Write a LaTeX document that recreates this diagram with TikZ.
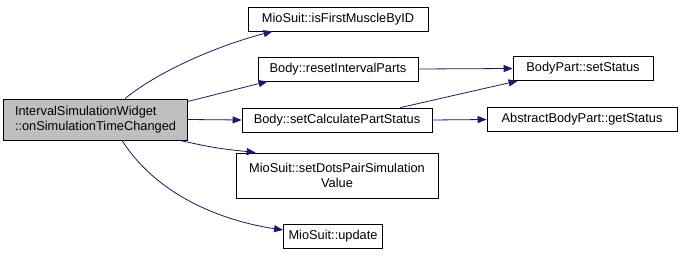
\documentclass[tikz,border=0pt]{standalone}
\usepackage[svgnames]{xcolor}
\usepackage{fontspec}
\setmainfont{Liberation Sans}
\usepackage{tikz}
\usetikzlibrary{positioning,calc,arrows.meta}
\tikzstyle{fn} = [draw=black, line width=0.8pt, fill=white, inner sep=2pt, minimum height=24pt, font=\fontsize{12.8}{15}\selectfont]
\tikzstyle{root} = [fn, fill=black!25, minimum height=41pt, text width=160pt, align=left]
\tikzstyle{call} = [draw=MidnightBlue, line width=0.8pt, -{Triangle[length=9pt,width=7pt]}]

\begin{document}
\begin{tikzpicture}[x=1pt, y=-1pt]
        \useasboundingbox (0,0) rectangle (683,256);
        \node[root, minimum width=184pt] (widget) at (95,119.5) {IntervalSimulationWidget\\::onSimulationTimeChanged};
        \node[fn, minimum width=180pt] (first) at (338,19) {MioSuit::isFirstMuscleByID};
        \node[fn, minimum width=160pt] (reset) at (338,69) {Body::resetIntervalParts};
        \node[fn, minimum width=190pt] (calc) at (337,120) {Body::setCalculatePartStatus};
        \node[fn, minimum width=202pt, minimum height=45pt, align=center] (dots) at (337,175.5) {MioSuit::setDotsPairSimulation\\Value};
        \node[fn, minimum width=99pt] (update) at (333,236) {MioSuit::update};
        \node[fn, minimum width=140pt] (setst) at (583,68.5) {BodyPart::setStatus};
        \node[fn, minimum width=190pt] (getst) at (582,119.5) {AbstractBodyPart::getStatus};

        \draw[call] ([xshift=30pt]widget.north) .. controls (160,70) and (220,45) .. ([xshift=25pt]first.south west);
        \draw[call] ([yshift=-3pt]widget.north east) -- ([xshift=10pt]reset.south west);
        \draw[call] (widget.east) -- (calc.west);
        \draw[call] ([xshift=-8pt]widget.south east) .. controls (215,148) .. ([xshift=20pt]dots.north west);
        \draw[call] ([xshift=27pt]widget.south) .. controls (160,200) and (230,222) .. ([yshift=6pt]update.west);
        \draw[call] (reset.east) -- (setst.west);
        \draw[call] ([xshift=-32pt]calc.north east) -- ([xshift=5pt]setst.south west);
        \draw[call] (calc.east) -- (getst.west);
        \end{tikzpicture}
\end{document}
